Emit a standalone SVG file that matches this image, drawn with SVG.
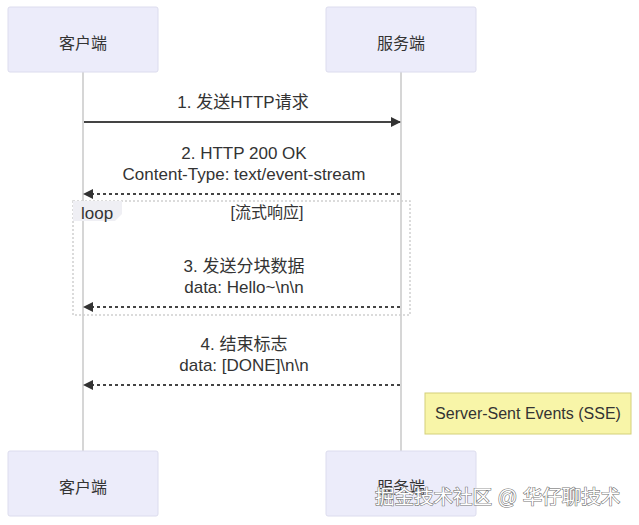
<svg xmlns="http://www.w3.org/2000/svg" width="639" height="525" viewBox="0 0 639 525">
<style>
text{font-family:"Liberation Sans",Arial,"Noto Sans CJK SC",sans-serif;fill:#333;}
.actor rect{fill:#ececfa;stroke:#dcdcee;stroke-width:1;}
.actor text{font-size:16px;text-anchor:middle;dominant-baseline:central;}
.life{stroke:#c8c8c8;stroke-width:1.5;}
.msg{stroke:#444;stroke-width:2;fill:none;}
.dash{stroke-dasharray:3,3;}
.lbl{font-size:17px;text-anchor:middle;}
</style>
<defs>
<marker id="ah" markerWidth="10" markerHeight="10" refX="9" refY="5" orient="auto" markerUnits="userSpaceOnUse">
<path d="M0,0 L10,5 L0,10 Z" fill="#333"/>
</marker>
</defs>
<rect width="639" height="525" fill="#fff"/>
<g id="lifelines">
<line class="life" x1="83" y1="72" x2="83" y2="451"/>
<line class="life" x1="401" y1="72" x2="401" y2="451"/>
</g>
<g id="loop">
<rect x="73" y="201" width="337" height="114" fill="none" stroke="#d0d0d0" stroke-width="1.5" stroke-dasharray="2,2"/>
<path d="M73,201 H122 V214 L115,221 H73 Z" fill="#efeff4" stroke="none"/>
<text x="81" y="219" font-size="17px">loop</text>
<text x="267" y="218" font-size="16px" text-anchor="middle">[流式响应]</text>
</g>
<g id="client-top" class="actor"><rect x="8" y="7" width="150" height="65" rx="2"/><text x="83" y="43">客户端</text></g>
<g id="server-top" class="actor"><rect x="326" y="7" width="150" height="65" rx="2"/><text x="401" y="43">服务端</text></g>
<g id="client-bottom" class="actor"><rect x="8" y="451" width="150" height="65" rx="2"/><text x="83" y="487">客户端</text></g>
<g id="server-bottom" class="actor"><rect x="326" y="451" width="150" height="65" rx="2"/><text x="401" y="487">服务端</text></g>
<g id="connectors">
<line class="msg" x1="84" y1="122" x2="400" y2="122" marker-end="url(#ah)"/>
<line class="msg dash" x1="400" y1="194" x2="84" y2="194" marker-end="url(#ah)"/>
<line class="msg dash" x1="400" y1="307" x2="84" y2="307" marker-end="url(#ah)"/>
<line class="msg dash" x1="400" y1="385" x2="84" y2="385" marker-end="url(#ah)"/>
</g>
<g id="labels">
<text class="lbl" x="243" y="108">1. 发送HTTP请求</text>
<text class="lbl" x="244" y="159">2. HTTP 200 OK</text>
<text class="lbl" x="244" y="180">Content-Type: text/event-stream</text>
<text class="lbl" x="244" y="272">3. 发送分块数据</text>
<text class="lbl" x="244" y="293">data: Hello~\n\n</text>
<text class="lbl" x="244" y="350">4. 结束标志</text>
<text class="lbl" x="244" y="371">data: [DONE]\n\n</text>
</g>
<g id="note">
<rect x="425" y="393" width="206" height="41" fill="#f8f5a8" stroke="#d4d07a" stroke-width="1"/>
<text x="528" y="419" font-size="16px" text-anchor="middle">Server-Sent Events (SSE)</text>
</g>
<text x="375" y="504" font-size="19.5px" style="fill:#fff" stroke="#777" stroke-width="1.2" paint-order="stroke">掘金技术社区 @ 华仔聊技术</text>
</svg>
